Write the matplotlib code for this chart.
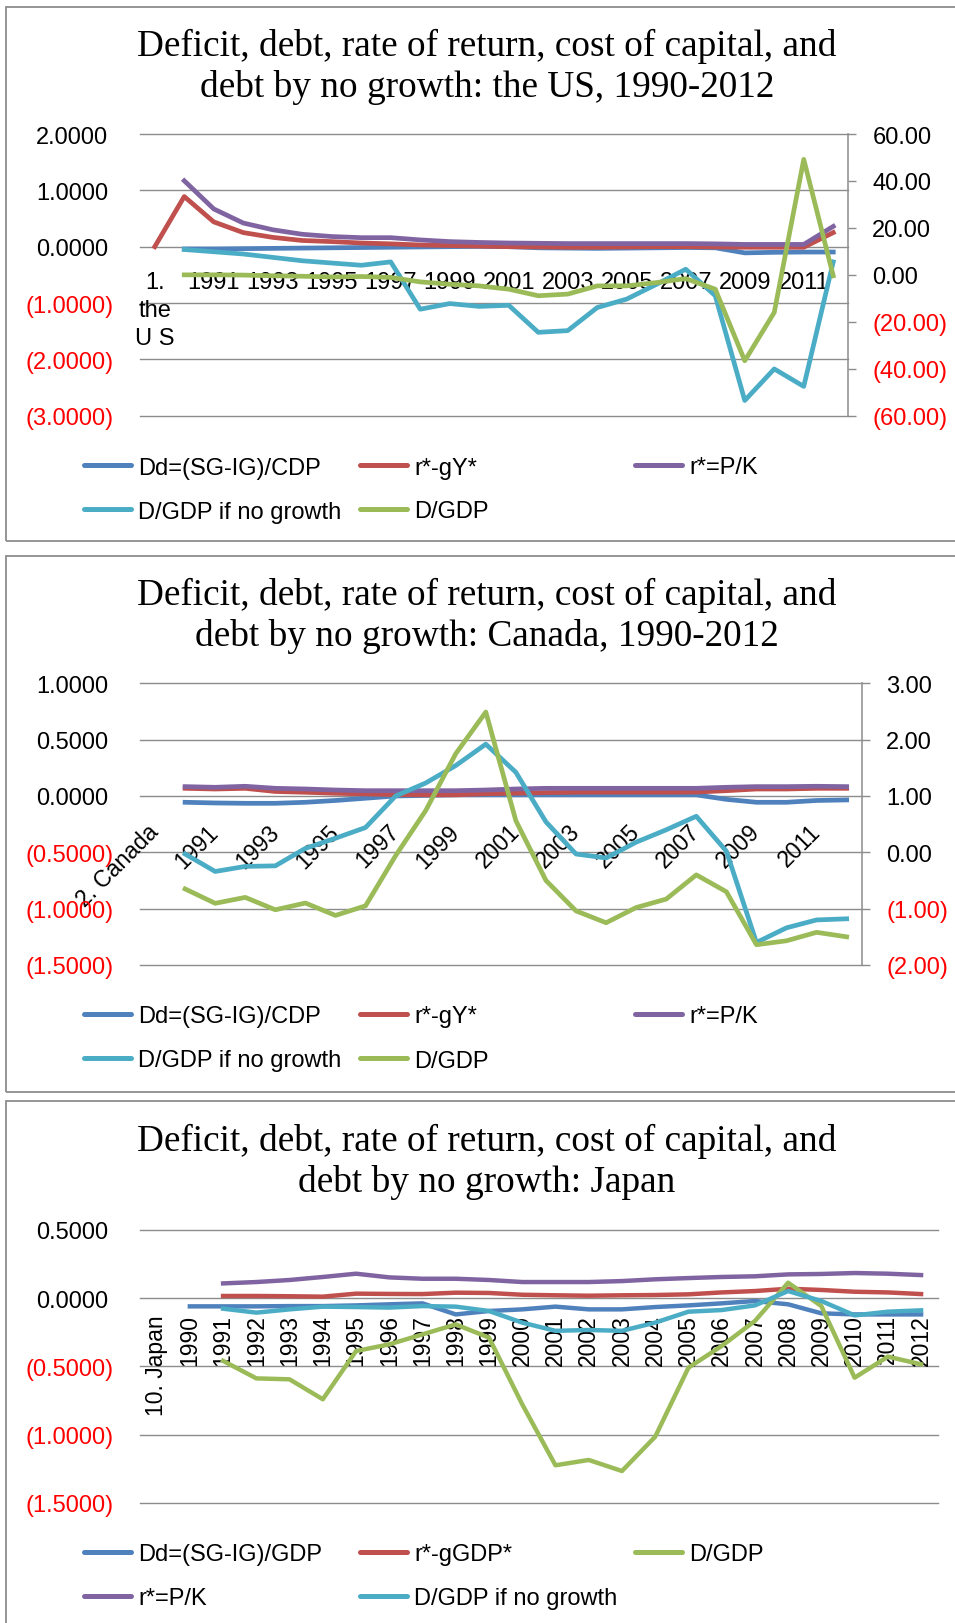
import numpy as np
import matplotlib
matplotlib.use("Agg")
import matplotlib.pyplot as plt
from matplotlib.lines import Line2D
from matplotlib.patches import Rectangle
from matplotlib.transforms import offset_copy

W, H = 955, 1624

# Office 2007 series colours
BLUE = '#4F81BD'
RED = '#C0504D'
GREEN = '#9BBB59'
PURPLE = '#8064A2'
AQUA = '#4BACC6'
GRID = '#8C8C8C'

SANS = 'Liberation Sans'
SERIF = 'Liberation Serif'

nan = np.nan
years = [str(y) for y in range(1990, 2013)]

# ---- the US ----
us_cats = ['1.\nthe\nU S'] + years
us_dd = [nan, -0.04, -0.04, -0.035, -0.03, -0.025, -0.02, -0.015, -0.01, -0.005, 0.0, 0.005,
         0.0, -0.02, -0.025, -0.03, -0.025, -0.02, -0.015, -0.02, -0.11, -0.10, -0.095, -0.095]
us_rg = [0.0, 0.89, 0.44, 0.25, 0.165, 0.11, 0.09, 0.065, 0.05, 0.03, 0.02, 0.01,
         0.0, -0.005, -0.01, -0.01, -0.005, 0.0, 0.0, -0.005, -0.01, -0.01, -0.01, 0.25]
us_pk = [nan, 1.17, 0.67, 0.42, 0.30, 0.22, 0.18, 0.16, 0.16, 0.12, 0.09, 0.075,
         0.065, 0.06, 0.055, 0.055, 0.055, 0.055, 0.055, 0.05, 0.04, 0.04, 0.04, 0.36]
us_dng = [nan, -0.05, -0.09, -0.13, -0.19, -0.25, -0.29, -0.33, -0.27, -1.11, -1.01, -1.06,
          -1.04, -1.52, -1.49, -1.08, -0.93, -0.67, -0.40, -0.87, -2.73, -2.17, -2.48, -0.27]
us_dgdp = [nan, 0.0, 0.0, -0.1, -0.4, -0.6, -0.9, -0.7, -1.1, -3.0, -4.0, -4.7,
           -6.1, -8.9, -8.2, -4.7, -4.7, -3.3, -1.6, -6.1, -36.6, -16.0, 49.2, -0.4]

# ---- Canada ----
ca_cats = ['2. Canada'] + years
ca_dd = [nan, -0.056, -0.062, -0.065, -0.065, -0.056, -0.04, -0.02, 0.0, 0.005, 0.01, 0.01,
         0.01, 0.01, 0.01, 0.01, 0.01, 0.01, 0.01, -0.03, -0.056, -0.056, -0.04, -0.035]
ca_rg = [nan, 0.068, 0.062, 0.068, 0.04, 0.033, 0.024, 0.018, 0.012, 0.01, 0.01, 0.02,
         0.025, 0.03, 0.033, 0.033, 0.033, 0.033, 0.035, 0.047, 0.062, 0.062, 0.068, 0.068]
ca_pk = [nan, 0.083, 0.077, 0.086, 0.068, 0.062, 0.053, 0.047, 0.047, 0.047, 0.047, 0.053,
         0.062, 0.068, 0.068, 0.068, 0.068, 0.068, 0.068, 0.077, 0.083, 0.083, 0.086, 0.083]
ca_dng = [nan, -0.515, -0.67, -0.625, -0.62, -0.465, -0.375, -0.28, 0.0, 0.115, 0.27, 0.46,
          0.21, -0.23, -0.515, -0.55, -0.41, -0.3, -0.18, -0.49, -1.30, -1.17, -1.10, -1.09]
ca_dgdp = [nan, -0.65, -0.905, -0.80, -1.02, -0.90, -1.12, -0.95, -0.06, 0.74, 1.75, 2.49,
           0.56, -0.50, -1.04, -1.25, -0.98, -0.83, -0.40, -0.70, -1.64, -1.57, -1.42, -1.50]

# ---- Japan ----
jp_cats = ['10. Japan'] + years
jp_dd = [nan, -0.061, -0.061, -0.061, -0.059, -0.059, -0.054, -0.046, -0.039, -0.12, -0.095, -0.083,
         -0.063, -0.083, -0.083, -0.066, -0.054, -0.039, -0.022, -0.046, -0.112, -0.12, -0.12, -0.12]
jp_rg = [nan, nan, 0.015, 0.015, 0.013, 0.01, 0.032, 0.03, 0.029, 0.039, 0.037, 0.024,
         0.02, 0.017, 0.02, 0.022, 0.027, 0.041, 0.051, 0.068, 0.059, 0.046, 0.041, 0.029]
jp_dgdp = [nan, nan, -0.46, -0.588, -0.595, -0.741, -0.388, -0.339, -0.266, -0.193, -0.29, -0.778,
           -1.224, -1.185, -1.266, -1.015, -0.51, -0.351, -0.168, 0.112, -0.059, -0.583, -0.429, -0.485]
jp_pk = [nan, nan, 0.107, 0.117, 0.132, 0.154, 0.178, 0.151, 0.141, 0.141, 0.132, 0.117,
         0.117, 0.117, 0.124, 0.137, 0.146, 0.154, 0.159, 0.173, 0.176, 0.183, 0.178, 0.168]
jp_dng = [nan, nan, -0.078, -0.107, -0.083, -0.063, -0.066, -0.07, -0.059, -0.063, -0.095, -0.18,
          -0.24, -0.234, -0.24, -0.18, -0.10, -0.088, -0.054, 0.051, -0.022, -0.127, -0.10, -0.09]

TITLE_1 = 'Deficit, debt, rate of return, cost of capital, and'

fig = plt.figure(figsize=(W / 100, H / 100), dpi=100)


def fx(px):
    return px / W


def fy(py):
    return 1 - py / H


def paren(v, fmt):
    return '(' + fmt.format(-v) + ')' if v < 0 else fmt.format(v)


def frame(top, bottom):
    fig.add_artist(Rectangle((fx(6), fy(bottom)), fx(990 - 6), (bottom - top) / H,
                             transform=fig.transFigure, fill=False,
                             edgecolor=GRID, lw=1.3))


def make_axes(x0, x1, y0, y1, lo, hi, step, fmt):
    ax = fig.add_axes([fx(x0), fy(y1), (x1 - x0) / W, (y1 - y0) / H])
    ax.set_xlim(-0.5, 23.5)
    ax.set_ylim(lo, hi)
    ticks = np.arange(lo, hi + step / 2, step)
    ax.set_yticks(ticks)
    ax.tick_params(axis='y', length=0, labelleft=False)
    for s in ['left', 'right', 'top']:
        ax.spines[s].set_visible(False)
    # category axis crosses the value axis at zero
    ax.spines['bottom'].set_position(('data', 0))
    ax.spines['bottom'].set_visible(False)
    for v in ticks:
        ax.axhline(v, color=GRID, lw=1.0, clip_on=False, zorder=0)
        neg = v < -1e-9
        tr = offset_copy(ax.get_yaxis_transform(), fig=fig,
                         x=-26 if neg else -32, y=0, units='dots')
        ax.text(0, v, paren(round(v, 4), fmt), transform=tr, ha='right',
                va='center_baseline', fontsize=17, family=SANS,
                color='red' if neg else 'black')
    return ax


def secondary(ax, lo, hi, step, fmt):
    ax2 = ax.twinx()
    ax2.set_ylim(lo, hi)
    ticks = np.arange(lo, hi + step / 2, step)
    ax2.set_yticks(ticks, [paren(round(v, 4), fmt) for v in ticks])
    ax2.tick_params(axis='y', direction='out', length=6, width=1.0, color=GRID,
                    pad=11.5, labelsize=17)
    for lbl, v in zip(ax2.get_yticklabels(), ticks):
        lbl.set_family(SANS)
        lbl.set_color('red' if v < -1e-9 else 'black')
    for s in ['left', 'top', 'bottom']:
        ax2.spines[s].set_visible(False)
    ax2.spines['right'].set_color(GRID)
    ax2.spines['right'].set_linewidth(1.1)
    return ax2


def legend(entries, rows):
    cols = [81, 357, 632]
    for r, c, label, color in entries:
        y = fy(rows[r])
        fig.add_artist(Line2D([fx(cols[c] + 2.5), fx(cols[c] + 49.5)], [y, y],
                              transform=fig.transFigure, color=color, lw=3.6,
                              solid_capstyle='round'))
        fig.text(fx(cols[c] + 57), y, label, ha='left', va='center_baseline',
                 fontsize=17, family=SANS)


def slanted(ax, angle, pad, size):
    ax.tick_params(axis='x', length=0, pad=pad, labelsize=size)
    for lbl in ax.get_xticklabels():
        lbl.set_family(SANS)
        lbl.set_rotation(angle)
        lbl.set_rotation_mode('anchor')
        lbl.set_ha('right')
        lbl.set_va('center')


x = np.arange(24)
LW = 3.4

# ================= the US =================
frame(8, 542)
fig.text(fx(487), fy(67), TITLE_1 + '\ndebt by no growth: the US, 1990-2012',
         ha='center', va='center', fontsize=26.8, family=SERIF, linespacing=1.2)
ax = make_axes(140, 848, 135, 416.7, -3, 2, 1, '{:.4f}')
ax.plot(x, us_dd, color=BLUE, lw=LW)
ax.plot(x, us_rg, color=RED, lw=LW)
ax.plot(x, us_pk, color=PURPLE, lw=LW)
ax.plot(x, us_dng, color=AQUA, lw=LW)
ax.set_xticks(x[::2], us_cats[::2])
ax.tick_params(axis='x', length=0, pad=17.3, labelsize=17)
for lbl in ax.get_xticklabels():
    lbl.set_family(SANS)
    lbl.set_linespacing(1.35)
ax2 = secondary(ax, -60, 60, 20, '{:.2f}')
ax2.plot(x, us_dgdp, color=GREEN, lw=LW)
legend([(0, 0, 'Dd=(SG-IG)/CDP', BLUE), (0, 1, 'r*-gY*', RED), (0, 2, 'r*=P/K', PURPLE),
        (1, 0, 'D/GDP if no growth', AQUA), (1, 1, 'D/GDP', GREEN)], [466, 510])

# ================= Canada =================
frame(557, 1093)
fig.text(fx(487), fy(616), TITLE_1 + '\ndebt by no growth: Canada, 1990-2012',
         ha='center', va='center', fontsize=26.8, family=SERIF, linespacing=1.2)
ax = make_axes(140, 861.7, 684.3, 966, -1.5, 1.0, 0.5, '{:.4f}')
ax.plot(x, ca_dd, color=BLUE, lw=LW)
ax.plot(x, ca_rg, color=RED, lw=LW)
ax.plot(x, ca_pk, color=PURPLE, lw=LW)
ax.plot(x, ca_dng, color=AQUA, lw=LW)
ax.set_xticks(x[::2], ca_cats[::2])
slanted(ax, 45, 23, 16.5)
ax2 = secondary(ax, -2, 3, 1, '{:.2f}')
ax2.plot(x, ca_dgdp, color=GREEN, lw=LW)
legend([(0, 0, 'Dd=(SG-IG)/CDP', BLUE), (0, 1, 'r*-gY*', RED), (0, 2, 'r*=P/K', PURPLE),
        (1, 0, 'D/GDP if no growth', AQUA), (1, 1, 'D/GDP', GREEN)], [1015, 1059])

# ================= Japan =================
frame(1102, 1700)
fig.text(fx(487), fy(1162), TITLE_1 + '\ndebt by no growth: Japan',
         ha='center', va='center', fontsize=26.8, family=SERIF, linespacing=1.2)
ax = make_axes(140, 937.7, 1230.7, 1504, -1.5, 0.5, 0.5, '{:.4f}')
ax.plot(x, jp_dd, color=BLUE, lw=3.2)
ax.plot(x, jp_rg, color=RED, lw=3.2)
ax.plot(x, jp_dgdp, color=GREEN, lw=3.2)
ax.plot(x, jp_pk, color=PURPLE, lw=3.2)
ax.plot(x, jp_dng, color=AQUA, lw=3.2)
ax.set_xticks(x, jp_cats)
slanted(ax, 90, 11.7, 16.5)
legend([(0, 0, 'Dd=(SG-IG)/GDP', BLUE), (0, 1, 'r*-gGDP*', RED), (0, 2, 'D/GDP', GREEN),
        (1, 0, 'r*=P/K', PURPLE), (1, 1, 'D/GDP if no growth', AQUA)], [1553, 1597])

fig.savefig('out.png', dpi=100)
